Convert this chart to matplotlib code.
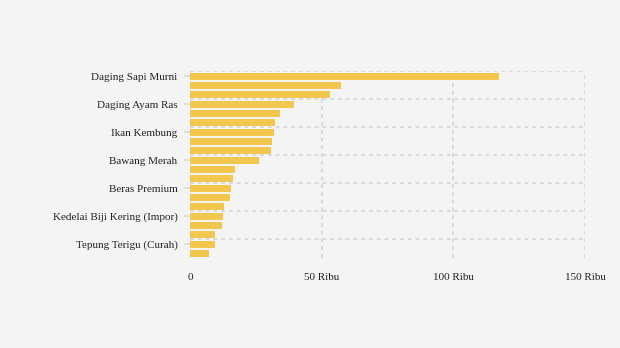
import matplotlib
matplotlib.use("Agg")
import matplotlib.pyplot as plt
import numpy as np

categories = [
    "Daging Sapi Murni", "Cabai Rawit Merah", "Cabai Merah Keriting",
    "Daging Ayam Ras", "Bawang Putih Bonggol", "Telur Ayam Ras",
    "Ikan Kembung", "Ikan Tongkol", "Ikan Bandeng",
    "Bawang Merah", "Gula Konsumsi", "Minyak Goreng Kemasan",
    "Beras Premium", "Minyakita", "Beras Medium",
    "Kedelai Biji Kering (Impor)", "Beras SPHP", "Garam Konsumsi",
    "Tepung Terigu (Curah)", "Jagung Tk Peternak",
]
values = [117400, 57300, 53200, 39500, 34200, 32300, 31900, 31100, 30800, 26200,
          17100, 16300, 15600, 15200, 12900, 12500, 12200, 9500, 9500, 7200]
x_ticks = [0, 50000, 100000, 150000]
x_tick_labels = ["0", "50 Ribu", "100 Ribu", "150 Ribu"]

W, H = 620, 348
fig = plt.figure(figsize=(W / 100, H / 100), dpi=100)
fig.patch.set_facecolor("#f4f4f4")
ax = fig.add_axes([190 / W, 1 - 258 / H, (585 - 190) / W, (258 - 71.4) / H])
ax.set_facecolor("#f4f4f4")

y = np.arange(len(categories))
ax.barh(y, values, height=0.75, color="#f2c74e", zorder=3)

ax.set_xlim(0, 150000)
ax.set_ylim(len(categories) - 0.5, -0.5)

grid_kw = dict(color="#d9d9d9", linewidth=1.4, linestyle=(0, (2, 2)), zorder=1)
for xt in x_ticks:
    ax.axvline(xt, **grid_kw)
for k in range(0, len(categories), 3):
    ax.axhline(k - 0.5, **grid_kw)

for s in ax.spines.values():
    s.set_visible(False)

label_idx = list(range(0, len(categories), 3))
ax.set_yticks(label_idx)
ax.set_yticklabels([categories[i] for i in label_idx], fontfamily="Liberation Serif",
                   fontsize=8, color="#222222")
ax.tick_params(axis="y", length=4, width=1.2, color="#d9d9d9", pad=5)

ax.set_xticks(x_ticks)
ax.set_xticklabels(x_tick_labels, fontfamily="Liberation Serif", fontsize=8, color="#222222")
ax.tick_params(axis="x", length=0, pad=11)

fig.savefig("out.png", dpi=100, facecolor=fig.get_facecolor())
